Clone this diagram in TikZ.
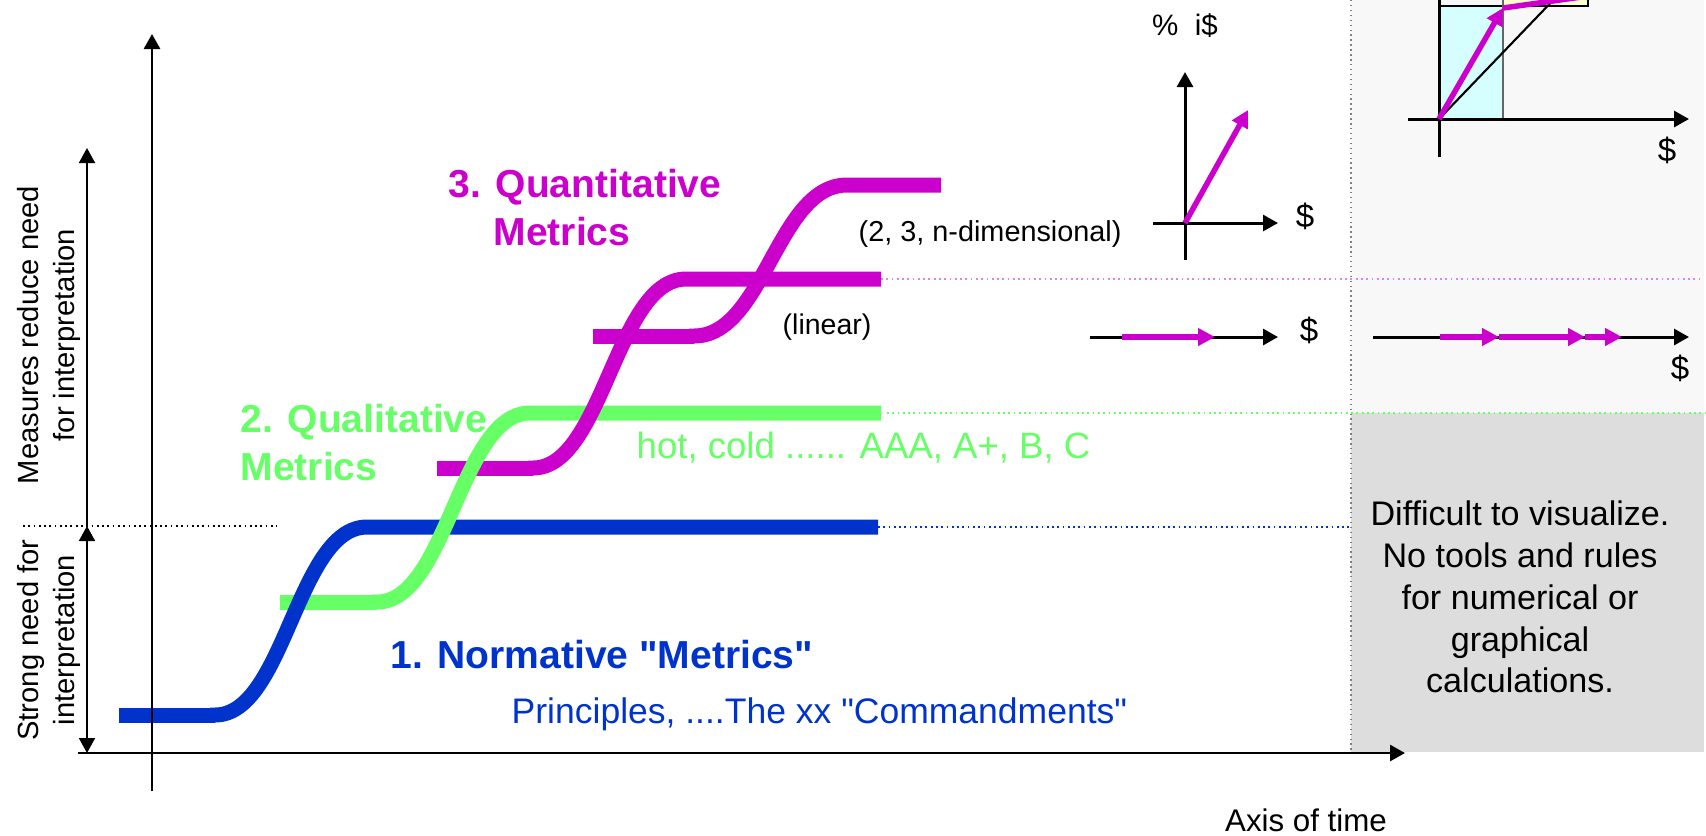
\documentclass[tikz,border=0pt]{standalone}
\usepackage{fontspec}
\setmainfont{Liberation Sans}
\usetikzlibrary{arrows.meta}
\definecolor{normblue}{HTML}{0033CC}
\definecolor{qualgreen}{HTML}{66FF66}
\definecolor{quantmag}{HTML}{CC00CC}
\definecolor{quantdot}{HTML}{E680E6}
\definecolor{paneltop}{HTML}{F8F8F8}
\definecolor{panellow}{HTML}{DDDDDD}
\definecolor{cellcyan}{HTML}{D5FFFF}
\definecolor{cellyellow}{HTML}{FFFFCC}
\tikzstyle{mainaxis} = [line width=0.8pt, ->]
\tikzstyle{smallaxis} = [line width=0.85pt]
\tikzstyle{needarrow} = [line width=0.5pt]
\tikzstyle{bigstep} = [line width=0.15cm]
\tikzstyle{levelline} = [densely dotted, line width=0.5pt]
\tikzstyle{vecarrow} = [draw=quantmag, line width=0.055cm, -{Triangle[width=0.17cm,length=0.17cm]}]
\tikzstyle{titletext} = [inner sep=0pt, anchor=base west, font=\fontsize{11.1}{13}\selectfont\bfseries]
\tikzstyle{commenttext} = [inner sep=0pt, anchor=base west]
\tikzstyle{dollar} = [inner sep=0pt, font=\fontsize{9.4}{11}\selectfont]
\tikzstyle{sidelabel} = [inner sep=0pt, anchor=base, rotate=90, font=\fontsize{8.3}{10}\selectfont]

\begin{document}
\begin{tikzpicture}[x=0.01cm, y=-0.01cm, >={Triangle[width=0.16cm,length=0.15cm]}]
    \clip (0,0) rectangle (1706,835);

    \fill[paneltop] (1351,0) rectangle (1704,413);
    \fill[panellow] (1351,413) rectangle (1704,752);
    \draw[gray, densely dotted, line width=0.4pt] (1351,0) -- (1351,752);

    \draw[levelline, quantdot] (881,279) -- (1700,279);
    \draw[levelline, qualgreen] (887,413) -- (1706,413);
    \draw[levelline, normblue] (878,527) -- (1351,527);
    \draw[levelline, black] (23,526) -- (277,526);

    \draw[bigstep, normblue] (119,715) -- (215,715);
    \draw[bigstep, qualgreen] (280,602) -- (377,602);
    \draw[bigstep, quantmag] (437,468) -- (533,468);
    \draw[bigstep, quantmag] (593,336) -- (694,336);

    \draw[bigstep, normblue] (210,715) -- (215,715) .. controls (285,715) and (297,527) .. (367,527) -- (878,527);
    \draw[bigstep, qualgreen] (372,602) -- (377,602) .. controls (447,602) and (460,413) .. (530,413) -- (881,413);
    \draw[bigstep, quantmag] (528,468) -- (533,468) .. controls (603,468) and (616,279) .. (686,279) -- (881,279);
    \draw[bigstep, quantmag] (689,336) -- (694,336) .. controls (764,336) and (777,185) .. (847,185) -- (941,185);

    \coordinate (tStart) at (78,753);
    \coordinate (tEnd) at (1405,753);
    \coordinate (vStart) at (152,791);
    \coordinate (vEnd) at (152,34);
    \draw[mainaxis] (tStart) -- (tEnd);
    \draw[mainaxis] (vStart) -- (vEnd);

    \coordinate (needTop) at (87,148);
    \coordinate (needMid) at (87,526);
    \coordinate (needBot) at (87,753);
    \draw[needarrow, ->] (needMid) -- (needTop);
    \draw[needarrow, <->] (needMid) -- (needBot);

    \coordinate (vecO) at (1185,223);
    \coordinate (vecX0) at (1153,223);
    \coordinate (vecX1) at (1278,223);
    \coordinate (vecY0) at (1185,260);
    \coordinate (vecY1) at (1185,72);
    \coordinate (vecTip) at (1248,110);
    \draw[smallaxis, ->] (vecX0) -- (vecX1);
    \draw[smallaxis, ->] (vecY0) -- (vecY1);
    \draw[vecarrow] (vecO) -- (vecTip);

    \coordinate (linX0) at (1090,337);
    \coordinate (linX1) at (1278,337);
    \coordinate (linA) at (1122,337);
    \coordinate (linB) at (1215,337);
    \draw[smallaxis, ->] (linX0) -- (linX1);
    \draw[vecarrow] (linA) -- (linB);

    \fill[cellcyan] (1439,6) rectangle (1503,119);
    \fill[cellyellow] (1503,-5) rectangle (1588,6);
    \draw[line width=0.5pt] (1439,6) -- (1588,6) -- (1588,-5);
    \draw[gray!80!black, line width=0.8pt] (1503,-5) -- (1503,119);
    \coordinate (panO) at (1439,119);
    \coordinate (panX0) at (1408,119);
    \coordinate (panX1) at (1689,119);
    \coordinate (panY0) at (1439,157);
    \coordinate (panY1) at (1439,-5);
    \coordinate (panDiag) at (1561,-8);
    \coordinate (panTipA) at (1503,8);
    \coordinate (panTipB) at (1645,-12);
    \draw[line width=0.6pt] (panO) -- (panDiag);
    \draw[smallaxis, ->] (panX0) -- (panX1);
    \draw[smallaxis] (panY0) -- (panY1);
    \draw[vecarrow] (panO) -- (panTipA);
    \draw[vecarrow] (panTipA) -- (panTipB);

    \coordinate (rowX0) at (1373,337);
    \coordinate (rowX1) at (1689,337);
    \coordinate (rowA) at (1440,337);
    \coordinate (rowB) at (1499,337);
    \coordinate (rowC) at (1585,337);
    \coordinate (rowD) at (1622,337);
    \draw[smallaxis, ->] (rowX0) -- (rowX1);
    \draw[vecarrow] (rowA) -- (rowB);
    \draw[vecarrow] (rowB) -- (rowC);
    \draw[vecarrow] (rowC) -- (rowD);

    \node (quantA) [titletext, text=quantmag] at (448,197) {3. Quantitative};
    \node (quantB) [titletext, text=quantmag] at (493,245) {Metrics};
    \node (qualA) [titletext, text=qualgreen] at (240,432) {2. Qualitative};
    \node (qualB) [titletext, text=qualgreen] at (240,480) {Metrics};
    \node (norm) [titletext, text=normblue] at (390,668) {1. Normative \textquotedbl Metrics\textquotedbl};
    \node (princ) [commenttext, text=normblue, font=\fontsize{10.1}{12}\selectfont] at (511,723) {Principles, ....The xx \textquotedbl Commandments\textquotedbl};
    \node (grades) [commenttext, text=qualgreen, font=\fontsize{10.4}{12}\selectfont] at (636,458) {hot, cold ...... AAA, A+, B, C};
    \node (linear) [commenttext, font=\fontsize{8.1}{10}\selectfont] at (782,334) {(linear)};
    \node (ndim) [commenttext, font=\fontsize{8.2}{10}\selectfont] at (858,241) {(2, 3, n-dimensional)};

    \node (pct) [dollar, font=\fontsize{8.4}{10}\selectfont] at (1185,26) {\%\ \ i\$};
    \node (dollarA) [dollar] at (1305,216) {\$};
    \node (dollarB) [dollar] at (1309,330) {\$};
    \node (dollarC) [dollar] at (1667,150) {\$};
    \node (dollarD) [dollar] at (1680,368) {\$};

    \node (hard) [align=center, inner sep=0pt, font=\fontsize{9.7}{11.9}\selectfont] at (1520,597) {Difficult to visualize.\\No tools and rules\\for numerical or\\graphical\\calculations.};
    \node (time) [anchor=base, inner sep=0pt, font=\fontsize{8.9}{11}\selectfont] at (1306,831) {Axis of time};

    \node (reduceA) [sidelabel] at (38,335) {Measures reduce need};
    \node (reduceB) [sidelabel] at (74,335) {for interpretation};
    \node (strongA) [sidelabel] at (38,640) {Strong need for};
    \node (strongB) [sidelabel] at (74,640) {interpretation};
\end{tikzpicture}
\end{document}
